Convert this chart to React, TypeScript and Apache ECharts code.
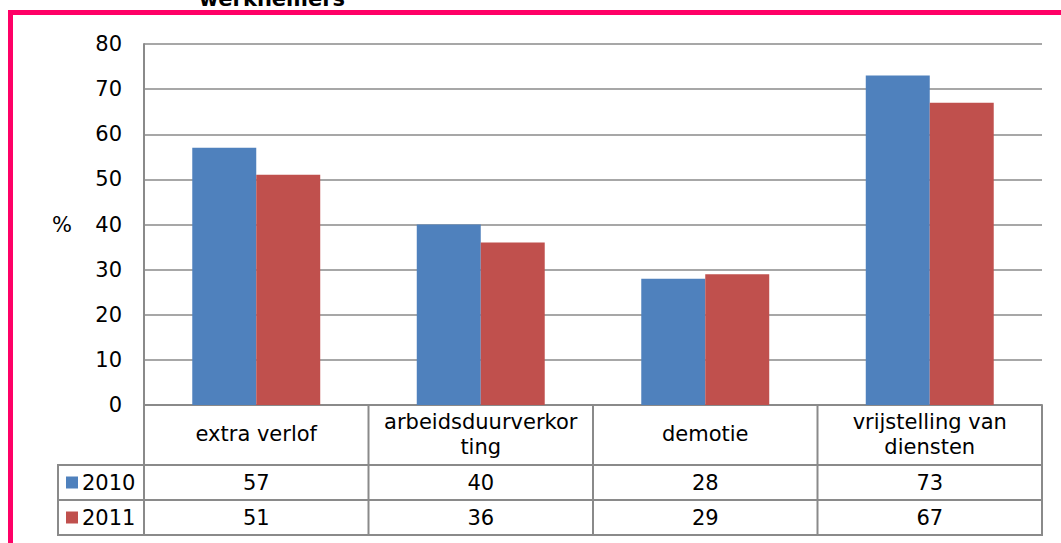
import React, { useEffect, useRef } from "react";
import * as echarts from "echarts";

const categories = ["extra verlof", "arbeidsduurverkor\nting", "demotie", "vrijstelling van\ndiensten"];
const seriesNames = ["2010", "2011"];
const values2010 = [57, 40, 28, 73];
const values2011 = [51, 36, 29, 67];
const seriesColors = ["#4F81BD", "#C0504D"];
const yMin = 0;
const yMax = 80;
const yStep = 10;
const yName = "%";
const titleText = "werknemers";

const FONT = "DejaVu Sans, Verdana, sans-serif";
const FS = 21;
const GRAY = "#8a8a8a";
const PINK = "#FF0066";

export default function App() {
  const ref = useRef<HTMLDivElement>(null);

  useEffect(() => {
    if (!ref.current) return;
    const chart = echarts.init(ref.current, null, { renderer: "svg" });
    const seriesValues = [values2010, values2011];

    const option: any = {
      animation: false,
      backgroundColor: "#ffffff",
      grid: { left: 144, right: 19, top: 44, bottom: 138, containLabel: false },
      xAxis: {
        type: "category",
        data: categories,
        axisLine: { show: true, lineStyle: { color: GRAY, width: 2 } },
        axisTick: { show: false },
        axisLabel: { show: false },
        splitLine: { show: false },
      },
      yAxis: {
        type: "value",
        min: yMin,
        max: yMax,
        interval: yStep,
        axisLine: { show: true, lineStyle: { color: GRAY, width: 2 } },
        axisTick: { show: false },
        axisLabel: { color: "#000", fontSize: FS, fontFamily: FONT, margin: 22 },
        splitLine: { show: true, lineStyle: { color: GRAY, width: 1.7 } },
      },
      series: seriesNames.map((name, i) => ({
        name,
        type: "bar",
        data: seriesValues[i],
        barGap: "0%",
        barCategoryGap: "43%",
        itemStyle: { color: seriesColors[i] },
      })),
    };
    chart.setOption(option);

    // Build data table under the plot using the axis scales
    const centers = categories.map((c, i) => chart.convertToPixel({ xAxisIndex: 0 }, i) as number);
    const band = centers.length > 1 ? centers[1] - centers[0] : 224;
    const bounds = [centers[0] - band / 2, ...centers.map((c) => c + band / 2)];
    const y0 = chart.convertToPixel({ yAxisIndex: 0 }, yMin) as number;
    const yMid = chart.convertToPixel({ yAxisIndex: 0 }, (yMin + yMax) / 2) as number;
    const left = bounds[0];
    const right = bounds[bounds.length - 1];
    const tableLeft = left - 86;
    const headerH = 60;
    const rowH = 35;
    const rowTops = [y0 + headerH, y0 + headerH + rowH];
    const tableBottom = y0 + headerH + 2 * rowH;

    const lineStyle = { stroke: GRAY, lineWidth: 2 };
    const g: any[] = [];

    // pink frame
    g.push({
      type: "rect",
      shape: { x: 10.5, y: 12.5, width: 1200, height: 700 },
      style: { fill: "none", stroke: PINK, lineWidth: 5 },
      z: 100,
    });
    // title
    g.push({
      type: "text",
      x: 272,
      y: -1,
      style: {
        text: titleText,
        font: `bold ${FS}px ${FONT}`,
        fill: "#000",
        textAlign: "center",
        textVerticalAlign: "middle",
      },
    });
    // y name
    g.push({
      type: "text",
      x: 62,
      y: yMid,
      style: { text: yName, font: `${FS}px ${FONT}`, fill: "#000", textAlign: "center", textVerticalAlign: "middle" },
    });

    // vertical lines
    bounds.forEach((bx) => {
      g.push({ type: "line", shape: { x1: bx, y1: y0, x2: bx, y2: tableBottom }, style: lineStyle });
    });
    g.push({ type: "line", shape: { x1: tableLeft, y1: rowTops[0], x2: tableLeft, y2: tableBottom }, style: lineStyle });
    // horizontal lines
    [rowTops[0], rowTops[1], tableBottom].forEach((yy) => {
      g.push({ type: "line", shape: { x1: tableLeft - 1, y1: yy, x2: right + 1, y2: yy }, style: lineStyle });
    });

    // header texts
    categories.forEach((cat, i) => {
      const lines = cat.split("\n");
      const lh = 25;
      const cy = y0 + headerH / 2 - 1;
      lines.forEach((ln, j) => {
        g.push({
          type: "text",
          x: centers[i],
          y: cy + (j - (lines.length - 1) / 2) * lh,
          style: { text: ln, font: `${FS}px ${FONT}`, fill: "#000", textAlign: "center", textVerticalAlign: "middle" },
        });
      });
    });

    // rows
    seriesNames.forEach((name, r) => {
      const cy = rowTops[r] + rowH / 2;
      g.push({
        type: "rect",
        shape: { x: tableLeft + 8, y: cy - 6, width: 12, height: 12 },
        style: { fill: seriesColors[r] },
      });
      g.push({
        type: "text",
        x: tableLeft + 24,
        y: cy,
        style: { text: name, font: `${FS}px ${FONT}`, fill: "#000", textAlign: "left", textVerticalAlign: "middle" },
      });
      seriesValues[r].forEach((v, i) => {
        g.push({
          type: "text",
          x: centers[i],
          y: cy,
          style: { text: String(v), font: `${FS}px ${FONT}`, fill: "#000", textAlign: "center", textVerticalAlign: "middle" },
        });
      });
    });

    chart.setOption({ graphic: { elements: g } });

    return () => chart.dispose();
  }, []);

  return (
    <div
      ref={ref}
      style={{ position: "fixed", left: 0, top: 0, width: 1061, height: 543, background: "#fff" }}
    />
  );
}
